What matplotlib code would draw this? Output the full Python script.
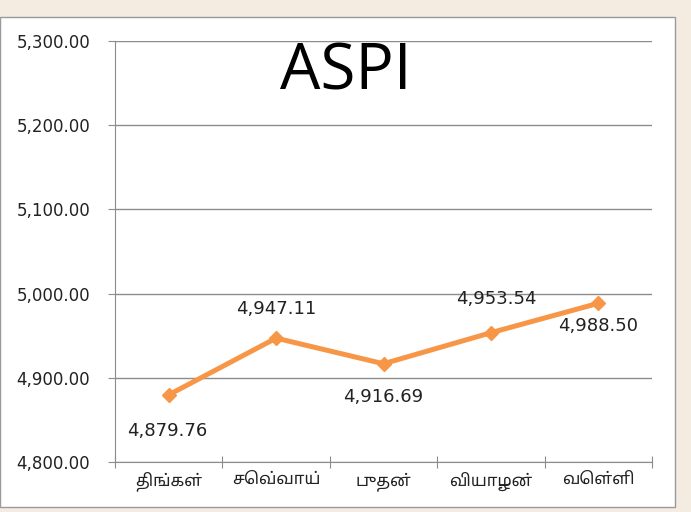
import matplotlib
matplotlib.use("Agg")
import matplotlib.pyplot as plt
from matplotlib.patches import Rectangle
from matplotlib.ticker import FuncFormatter

days = ["திங்கள்", "செவ்வாய்", "புதன்", "வியாழன்", "வெள்ளி"]
values = [4879.76, 4947.11, 4916.69, 4953.54, 4988.50]
title = "ASPI"
y_min, y_max, y_step = 4800, 5300, 100
# label offsets in points (dx, dy)
label_offsets = [(-1, -26), (0, 21), (0, -24), (4, 24), (0, -16)]

tamil_fonts = ["Noto Sans Tamil", "Lohit Tamil", "Latha", "Noto Sans", "DejaVu Sans"]

fig = plt.figure(figsize=(6.91, 5.12), dpi=100)
fig.patch.set_facecolor("#F4EBE1")

# white chart panel
panel = Rectangle((0 / 691, 1 - 507 / 512), 675 / 691, 490 / 512,
                  transform=fig.transFigure, facecolor="white",
                  edgecolor="#9A9A9A", linewidth=1.0, zorder=-5)
fig.patches.append(panel)

ax = fig.add_axes([115 / 691, 1 - 462 / 512, 537 / 691, 421 / 512])
ax.set_facecolor("none")
ax.set_zorder(2)

x = list(range(len(days)))
ax.plot(x, values, color="#F79646", linewidth=3.6, marker="D",
        markersize=7.5, markerfacecolor="#F79646", markeredgecolor="#F79646",
        zorder=3, solid_capstyle="round")

for xi, v, (dx, dy) in zip(x, values, label_offsets):
    ax.annotate(f"{v:,.2f}", (xi, v), xytext=(dx, dy), textcoords="offset points",
                ha="center", va="center", fontsize=13, color="#222222",
                family="DejaVu Sans")

ax.set_xlim(-0.5, len(days) - 0.5)
ax.set_ylim(y_min, y_max)
ax.set_yticks(range(y_min, y_max + 1, y_step))
ax.yaxis.set_major_formatter(FuncFormatter(lambda v, p: f"{v:,.2f}"))
ax.set_xticks([i + 0.5 for i in range(-1, len(days))], minor=False)
ax.set_xticklabels([])
ax.set_xticks(x, minor=True)
ax.set_xticklabels(days, minor=True, family=tamil_fonts, fontsize=12, color="#222222")
ax.tick_params(axis="x", which="minor", length=0, pad=7)
ax.tick_params(axis="x", which="major", length=8, direction="inout", color="#8C8C8C")
ax.tick_params(axis="y", length=5, direction="out", color="#8C8C8C",
               labelsize=12, labelcolor="#222222", pad=13)
for lab in ax.get_yticklabels():
    lab.set_family("DejaVu Sans")

ax.grid(axis="y", color="#8C8C8C", linewidth=1.0)
ax.set_axisbelow(True)
for side in ["top", "right"]:
    ax.spines[side].set_visible(False)
ax.spines["left"].set_color("#8C8C8C")
ax.spines["bottom"].set_color("#8C8C8C")

fig.text(346 / 691, 1 - 72 / 512, title, ha="center", va="center",
         fontsize=46, family="Open Sans", color="black", zorder=5)

fig.savefig("out.png", dpi=100, facecolor=fig.get_facecolor())
